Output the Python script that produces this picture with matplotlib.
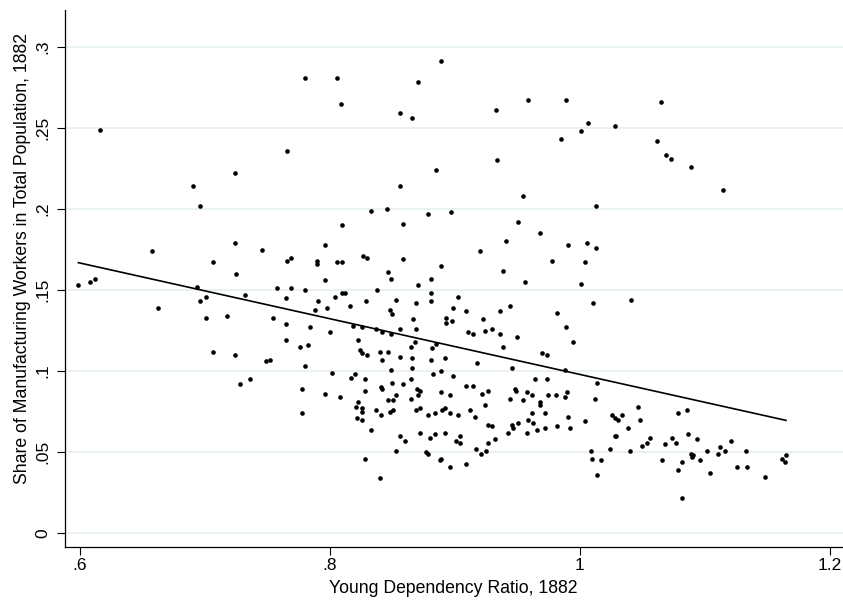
import matplotlib
matplotlib.use("Agg")
import matplotlib.pyplot as plt
import numpy as np

plt.rcParams["font.family"] = ["Liberation Sans", "DejaVu Sans"]

# Young dependency ratio (x) and share of manufacturing workers (y), 1882
young_dep = [
    0.616, 0.691, 0.780, 0.806, 0.871, 0.809, 0.856, 0.866, 0.766, 0.724,
    0.856, 0.889, 0.933, 0.959, 0.989, 1.007, 1.001, 1.028, 0.985, 0.934,
    0.885, 1.065, 1.062, 1.069, 1.073, 1.089, 1.115, 0.696, 0.658, 0.707,
    0.599, 0.608, 0.612, 0.694, 0.696, 0.701, 0.663, 0.701, 0.707, 0.833,
    0.846, 0.810, 0.859, 0.724, 0.746, 0.796, 0.766, 0.769, 0.790, 0.790,
    0.806, 0.810, 0.827, 0.830, 0.859, 0.725, 0.796, 0.847, 0.849, 0.871,
    0.758, 0.769, 0.780, 0.838, 0.732, 0.765, 0.804, 0.810, 0.812, 0.791,
    0.829, 0.853, 0.869, 0.798, 0.816, 0.788, 0.848, 0.850, 0.718, 0.755,
    0.867, 0.765, 0.784, 0.819, 0.826, 0.837, 0.842, 0.849, 0.856, 0.869,
    0.800, 0.823, 0.765, 0.868, 0.776, 0.783, 0.865, 0.724, 0.824, 0.826,
    0.830, 0.840, 0.847, 0.856, 0.866, 0.842, 0.749, 0.752, 0.955, 1.013,
    0.879, 0.897, 0.951, 0.968, 0.941, 0.920, 0.991, 1.006, 1.013, 0.889,
    0.978, 1.004, 0.939, 0.881, 0.956, 1.001, 0.881, 0.903, 0.881, 1.041,
    1.011, 0.899, 0.944, 0.909, 0.936, 0.982, 0.893, 0.893, 0.898, 0.923,
    0.989, 0.924, 0.930, 0.911, 0.915, 0.936, 0.950, 0.995, 0.885, 0.882,
    0.939, 0.970, 0.974, 0.881, 0.892, 0.918, 0.780, 0.849, 0.866, 0.728,
    0.736, 0.778, 0.802, 0.796, 0.808, 0.778, 0.817, 0.820, 0.828, 0.828,
    0.841, 0.842, 0.850, 0.859, 0.865, 0.870, 0.872, 0.871, 0.853, 0.847,
    0.851, 0.865, 0.823, 0.821, 0.826, 0.826, 0.837, 0.841, 0.848, 0.851,
    0.869, 0.872, 0.822, 0.826, 0.833, 0.856, 0.860, 0.872, 0.853, 0.828,
    0.840, 0.946, 0.988, 0.883, 0.889, 0.899, 0.909, 0.915, 0.922, 0.927,
    0.889, 0.896, 0.924, 0.944, 0.948, 0.949, 0.964, 0.974, 0.958, 0.962,
    0.975, 0.981, 0.990, 0.988, 0.955, 0.968, 0.968, 1.014, 1.012, 0.879,
    0.884, 0.890, 0.892, 0.896, 0.903, 0.912, 0.916, 0.962, 0.972, 0.991,
    0.880, 0.884, 0.892, 0.901, 0.904, 0.904, 0.927, 0.930, 0.932, 0.927,
    0.917, 0.921, 0.925, 0.909, 0.896, 0.888, 0.889, 0.877, 0.879, 0.943,
    0.946, 0.947, 0.951, 0.958, 0.959, 0.963, 0.966, 0.972, 0.982, 0.992,
    1.004, 1.009, 1.010, 1.017, 1.014, 1.024, 1.026, 1.028, 1.031, 1.034,
    1.028, 1.029, 1.039, 1.040, 1.047, 1.048, 1.050, 1.054, 1.056, 1.066,
    1.068, 1.074, 1.077, 1.079, 1.086, 1.087, 1.094, 1.079, 1.082, 1.082,
    1.089, 1.090, 1.091, 1.096, 1.102, 1.104, 1.111, 1.112, 1.116, 1.121,
    1.126, 1.133, 1.134, 1.148, 1.162, 1.164, 1.165,
]
manuf_share = [
    0.249, 0.214, 0.281, 0.281, 0.278, 0.265, 0.259, 0.256, 0.236, 0.222,
    0.214, 0.291, 0.261, 0.267, 0.267, 0.253, 0.248, 0.251, 0.243, 0.230,
    0.224, 0.266, 0.242, 0.233, 0.231, 0.226, 0.212, 0.202, 0.174, 0.167,
    0.153, 0.155, 0.157, 0.152, 0.143, 0.146, 0.139, 0.133, 0.112, 0.199,
    0.200, 0.190, 0.191, 0.179, 0.175, 0.178, 0.168, 0.170, 0.168, 0.166,
    0.167, 0.167, 0.171, 0.170, 0.169, 0.160, 0.156, 0.161, 0.157, 0.153,
    0.151, 0.151, 0.150, 0.150, 0.147, 0.145, 0.146, 0.148, 0.148, 0.143,
    0.143, 0.144, 0.142, 0.139, 0.140, 0.138, 0.138, 0.135, 0.134, 0.133,
    0.132, 0.129, 0.127, 0.128, 0.127, 0.126, 0.124, 0.123, 0.126, 0.126,
    0.124, 0.119, 0.119, 0.118, 0.115, 0.116, 0.115, 0.110, 0.113, 0.111,
    0.110, 0.112, 0.112, 0.109, 0.108, 0.107, 0.106, 0.107, 0.208, 0.202,
    0.197, 0.198, 0.192, 0.185, 0.180, 0.174, 0.178, 0.179, 0.176, 0.165,
    0.168, 0.167, 0.162, 0.157, 0.155, 0.154, 0.148, 0.146, 0.143, 0.144,
    0.142, 0.139, 0.140, 0.137, 0.137, 0.136, 0.133, 0.130, 0.131, 0.132,
    0.127, 0.125, 0.126, 0.124, 0.123, 0.123, 0.121, 0.118, 0.117, 0.114,
    0.115, 0.111, 0.110, 0.107, 0.108, 0.105, 0.103, 0.101, 0.102, 0.092,
    0.095, 0.089, 0.099, 0.086, 0.084, 0.074, 0.096, 0.098, 0.095, 0.088,
    0.090, 0.089, 0.093, 0.092, 0.095, 0.089, 0.088, 0.085, 0.085, 0.082,
    0.082, 0.083, 0.081, 0.078, 0.077, 0.075, 0.076, 0.073, 0.075, 0.076,
    0.076, 0.077, 0.071, 0.070, 0.064, 0.060, 0.057, 0.062, 0.051, 0.046,
    0.034, 0.102, 0.101, 0.098, 0.100, 0.097, 0.091, 0.091, 0.086, 0.088,
    0.087, 0.085, 0.079, 0.083, 0.089, 0.088, 0.095, 0.095, 0.087, 0.085,
    0.085, 0.085, 0.087, 0.084, 0.082, 0.081, 0.079, 0.093, 0.083, 0.073,
    0.074, 0.076, 0.077, 0.074, 0.073, 0.076, 0.072, 0.074, 0.074, 0.072,
    0.059, 0.061, 0.062, 0.057, 0.056, 0.060, 0.067, 0.066, 0.058, 0.056,
    0.052, 0.049, 0.051, 0.043, 0.041, 0.045, 0.046, 0.050, 0.049, 0.062,
    0.067, 0.065, 0.068, 0.062, 0.070, 0.068, 0.064, 0.065, 0.066, 0.065,
    0.069, 0.051, 0.046, 0.045, 0.036, 0.052, 0.073, 0.071, 0.070, 0.073,
    0.060, 0.060, 0.065, 0.051, 0.078, 0.070, 0.054, 0.056, 0.059, 0.045,
    0.055, 0.059, 0.056, 0.074, 0.076, 0.061, 0.058, 0.039, 0.044, 0.022,
    0.049, 0.047, 0.048, 0.045, 0.051, 0.037, 0.049, 0.053, 0.051, 0.057,
    0.041, 0.051, 0.041, 0.035, 0.046, 0.044, 0.048,
]

# Linear fit: share = fit_intercept + fit_slope * ratio
fit_intercept = 0.2698
fit_slope = -0.1718

x_ticks = [0.6, 0.8, 1.0, 1.2]
x_tick_labels = [".6", ".8", "1", "1.2"]
y_ticks = [0, 0.05, 0.10, 0.15, 0.20, 0.25, 0.30]
y_tick_labels = ["0", ".05", ".1", ".15", ".2", ".25", ".3"]

x = np.array(young_dep)
y = np.array(manuf_share)

fig = plt.figure(figsize=(8.43, 6.02), dpi=100)
ax = fig.add_axes([0.0767, 0.0909, 0.9233, 0.8925])

ax.set_xlim(0.588, 1.2106)
ax.set_ylim(-0.0086, 0.3227)

for yt in y_ticks:
    ax.axhline(yt, color="#e8f0f2", linewidth=1.3, zorder=0)

ax.scatter(x, y, s=11, color="black", linewidths=0, zorder=3)

fx = np.array([x.min(), x.max()])
ax.plot(fx, fit_intercept + fit_slope * fx, color="black", linewidth=1.2, zorder=4)

ax.set_xticks(x_ticks)
ax.set_xticklabels(x_tick_labels)
ax.set_yticks(y_ticks)
ax.set_yticklabels(y_tick_labels, rotation=90, va="center")

ax.tick_params(axis="both", direction="out", length=6, width=0.8,
               labelsize=12.5, colors="black")
ax.tick_params(axis="x", pad=2)
ax.tick_params(axis="y", pad=4)

for side in ("top", "right"):
    ax.spines[side].set_visible(False)
for side in ("left", "bottom"):
    ax.spines[side].set_linewidth(0.9)

fig.text(453.5 / 843, (602 - 592.7) / 602, "Young Dependency Ratio, 1882",
         ha="center", va="baseline", fontsize=12.7)
fig.text(26.7 / 843, (602 - 258) / 602,
         "Share of Manufacturing Workers in Total Population, 1882",
         ha="center", va="baseline", rotation=90, rotation_mode="anchor",
         fontsize=12.7)

fig.savefig("out.png", dpi=100)
